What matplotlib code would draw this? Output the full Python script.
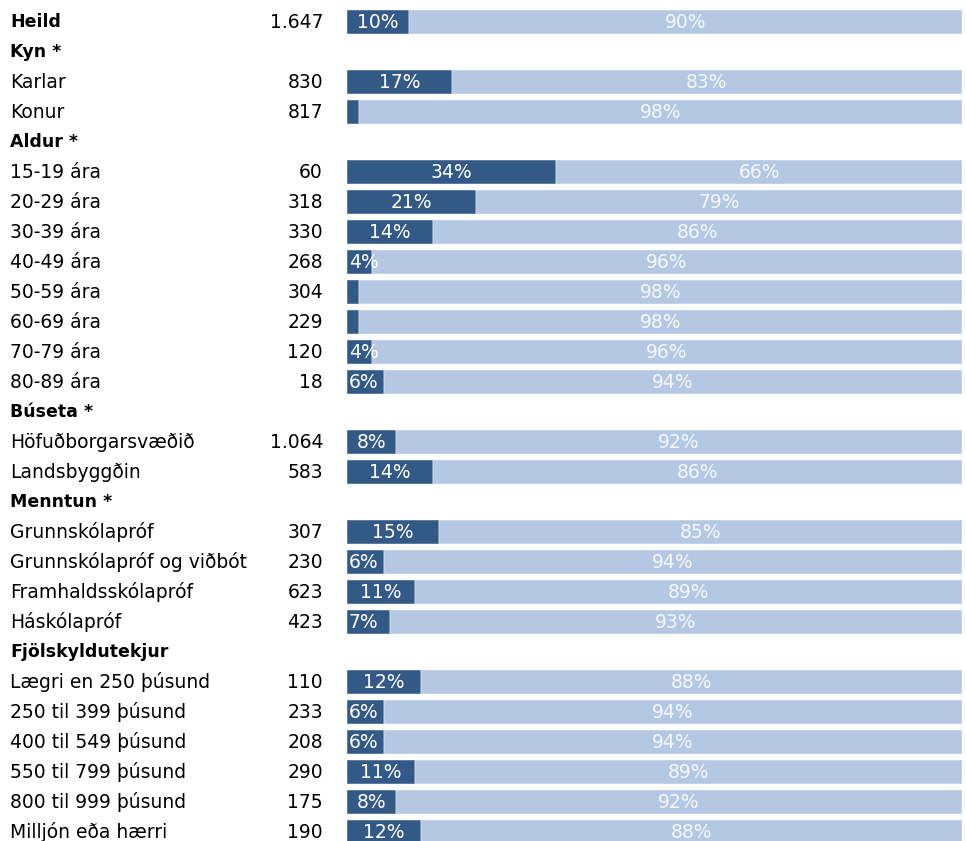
import matplotlib
matplotlib.use("Agg")
import matplotlib.pyplot as plt
from matplotlib.transforms import blended_transform_factory

labels = ["Heild", "Kyn *", "Karlar", "Konur", "Aldur *", "15-19 ára", "20-29 ára",
          "30-39 ára", "40-49 ára", "50-59 ára", "60-69 ára", "70-79 ára", "80-89 ára",
          "Búseta *", "Höfuðborgarsvæðið", "Landsbyggðin", "Menntun *", "Grunnskólapróf",
          "Grunnskólapróf og viðbót", "Framhaldsskólapróf", "Háskólapróf", "Fjölskyldutekjur",
          "Lægri en 250 þúsund", "250 til 399 þúsund", "400 til 549 þúsund",
          "550 til 799 þúsund", "800 til 999 þúsund", "Milljón eða hærri"]
bold = [True, True, False, False, True, False, False, False, False, False, False, False, False,
        True, False, False, True, False, False, False, False, True,
        False, False, False, False, False, False]
counts = ["1.647", "", "830", "817", "", "60", "318", "330", "268", "304", "229", "120", "18",
          "", "1.064", "583", "", "307", "230", "623", "423", "",
          "110", "233", "208", "290", "175", "190"]
yes_vals = [10, None, 17, 2, None, 34, 21, 14, 4, 2, 2, 4, 6,
            None, 8, 14, None, 15, 6, 11, 7, None,
            12, 6, 6, 11, 8, 12]
no_vals = [90, None, 83, 98, None, 66, 79, 86, 96, 98, 98, 96, 94,
           None, 92, 86, None, 85, 94, 89, 93, None,
           88, 94, 94, 89, 92, 88]

dark = "#335A87"
light = "#B4C8E3"
font = "DejaVu Sans"
fs = 13.5
fs_bold = 12.5

W, H = 966, 841
fig = plt.figure(figsize=(W / 100, H / 100), dpi=100)
x0, x1 = 347, 962
ax = fig.add_axes([x0 / W, 0, (x1 - x0) / W, 1])
ax.set_xlim(0, 100)
ax.set_ylim((H - 22) / 30, -22 / 30)
ax.axis("off")

for i in range(len(labels)):
    if yes_vals[i] is None:
        continue
    y, n = yes_vals[i], no_vals[i]
    ax.barh(i, y, height=0.8, left=0, color=dark, edgecolor="white", linewidth=0.3)
    ax.barh(i, n, height=0.8, left=y, color=light, edgecolor="white", linewidth=0.3)
    if y >= 3:
        if y >= 8:
            ax.text(y / 2, i, f"{y}%", ha="center", va="center", color="white",
                    fontsize=fs, family=font)
        else:
            ax.text(0.3, i, f"{y}%", ha="left", va="center", color="white",
                    fontsize=fs, family=font)
    ax.text(y + n / 2, i, f"{n}%", ha="center", va="center", color="#F4F7FB",
            fontsize=fs, family=font)

tr = blended_transform_factory(fig.transFigure, ax.transData)
for i, lab in enumerate(labels):
    ax.text(10 / W, i, lab, transform=tr, ha="left", va="center",
            fontsize=fs_bold if bold[i] else fs,
            family=font, fontweight="bold" if bold[i] else "normal", color="black",
            clip_on=False)
    if counts[i]:
        ax.text(323 / W, i, counts[i], transform=tr, ha="right", va="center",
                fontsize=fs, family=font, color="black", clip_on=False)

fig.savefig("out.png", dpi=100)
